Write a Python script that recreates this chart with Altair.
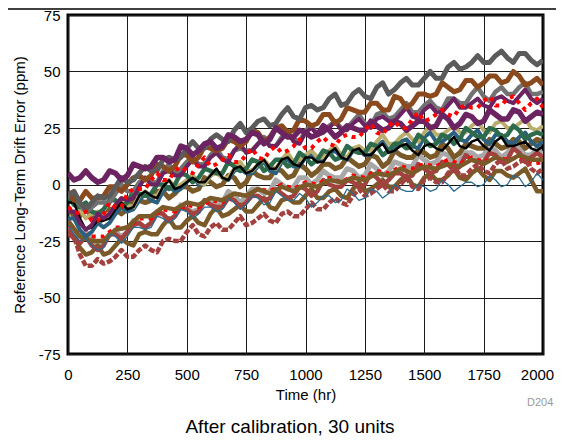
import altair as alt
import pandas as pd

HOURS_25 = list(range(0, 2001, 25))
HOURS_50 = list(range(0, 2001, 50))

dark_gray = [-5,-3,-8,-11,-8,-5,-6,-5,-1,3,1,2,5,8,6,6,11,12,11,12,16,19,16,16,20,22,20,19,24,27,23,25,28,29,26,27,31,34,30,29,34,35,33,34,38,40,35,36,40,42,39,38,43,45,40,42,45,47,44,44,47,50,47,47,52,54,51,52,54,57,54,54,57,59,56,54,58,58,55,53,55]
brown = [-3,-7,-7,-3,-6,-6,-5,-1,-1,-3,0,3,4,2,4,9,8,6,8,13,13,10,12,17,16,15,16,20,19,17,19,24,23,19,21,25,26,23,24,29,28,26,27,31,31,27,29,34,33,32,32,36,36,33,33,39,38,34,36,40,40,39,40,45,43,41,42,46,46,43,45,48,48,45,46,50,48,44,45,47,44]
med_gray = [-5,-5,-9,-12,-10,-8,-8,-8,-4,0,-3,-3,1,3,1,1,6,9,5,7,10,12,9,9,13,16,12,11,15,16,15,15,18,21,17,17,21,23,20,19,24,26,22,23,26,28,25,25,28,31,27,26,31,32,29,30,33,36,32,32,35,37,34,33,38,38,36,36,40,43,39,37,41,43,40,40,43,45,40,40,41]
purple_a = [5,2,3,6,3,1,2,6,5,2,4,9,8,7,8,12,12,10,11,17,16,13,15,18,19,16,17,22,21,19,20,23,22,18,20,25,23,21,21,24,23,21,22,26,24,21,23,26,25,24,24,28,26,24,25,28,27,24,26,28,28,25,26,31,29,25,27,31,30,27,28,33,31,29,29,33,32,28,30,32,31]
purple_b = [-12,-12,-17,-20,-18,-13,-15,-13,-9,-6,-7,-6,-1,3,0,0,5,6,4,4,8,11,8,8,12,14,11,10,15,18,14,15,18,20,17,17,20,23,19,18,23,25,22,23,25,28,24,24,27,29,26,25,29,30,28,28,31,34,30,29,33,35,32,32,35,38,34,34,36,38,35,34,38,39,37,36,39,42,38,36,38]
red_a = [-10,-12,-13,-12,-16,-16,-13,-8,-10,-10,-4,-2,-2,-2,2,5,2,2,6,8,6,5,9,12,8,9,11,13,10,10,13,16,12,11,15,17,14,15,17,20,16,16,19,21,18,17,21,22,21,21,24,27,23,22,26,28,25,25,29,32,28,29,31,33,31,30,34,35,34,34,37,39,35,35,38,39,36,33,36,38,34]
black = [-8,-8,-15,-20,-19,-16,-16,-15,-11,-8,-11,-10,-5,-3,-5,-6,-1,2,-2,-1,1,3,1,1,4,7,3,2,7,8,5,6,9,11,7,7,11,12,9,8,12,12,10,10,14,16,12,11,15,16,13,13,16,18,14,15,17,18,15,13,17,18,16,15,18,21,17,16,19,20,17,15,19,21,17,17,18,19,16,15,17]
green = [-5,-9,-10,-8,-12,-13,-11,-7,-7,-10,-8,-3,-4,-5,-4,0,0,-2,0,5,4,1,3,7,6,5,5,10,8,6,7,11,10,6,8,11,11,8,9,14,12,9,11,15,14,11,12,17,15,14,14,18,17,13,15,18,18,16,17,22,20,17,18,22,21,18,20,25,23,21,21,25,24,21,22,26,24,20,22,23,22]
blue = [-15,-15,-20,-23,-21,-17,-19,-17,-13,-10,-12,-11,-7,-4,-7,-8,-3,-1,-3,-2,1,4,0,0,4,6,3,2,6,7,5,5,8,10,6,5,10,11,8,8,12,14,10,11,14,15,12,11,15,15,13,13,17,19,15,15,19,20,17,16,21,23,19,19,21,23,20,19,22,24,20,18,22,22,19,18,21,23,19,17,19]
thin_blue = [-18,-22,-25,-24,-27,-29,-28,-22,-23,-26,-23,-19,-19,-20,-19,-14,-15,-17,-15,-11,-12,-15,-13,-10,-10,-12,-11,-6,-8,-11,-9,-5,-6,-9,-8,-3,-5,-7,-7,-4,-6,-10,-8,-5,-5,-8,-7,-2,-4,-7,-6,-2,-3,-6,-4,0,-2,-3,-3,0,-1,-3,-2,2,0,-3,-1,1,1,-1,0,4,2,-1,0,4,3,-1,1,5,2]
brick_a = [-22,-23,-31,-36,-36,-33,-35,-34,-32,-29,-32,-32,-29,-27,-29,-30,-25,-24,-25,-25,-21,-18,-22,-23,-19,-17,-20,-20,-17,-14,-18,-17,-15,-13,-16,-17,-13,-12,-14,-14,-11,-8,-11,-11,-8,-6,-8,-9,-5,-2,-5,-4,-2,0,-3,-3,0,3,-1,-2,2,3,1,1,5,8,4,4,7,9,6,5,9,11,7,8,10,11,7,5,7]
brick_b = [-20,-24,-26,-23,-27,-29,-27,-22,-22,-24,-21,-18,-17,-19,-17,-12,-13,-16,-14,-10,-11,-13,-12,-7,-9,-10,-10,-6,-7,-10,-8,-5,-5,-7,-6,-2,-4,-6,-5,-1,-2,-5,-3,2,0,-1,-1,2,1,-1,0,5,3,0,2,5,5,3,4,9,7,5,6,10,9,6,8,13,11,10,10,14,13,10,11,16,14,10,12,14,12]
khaki = [-5,-6,-11,-15,-13,-12,-13,-13,-9,-6,-9,-10,-5,-3,-5,-5,-1,2,-1,0,2,4,1,0,4,5,3,3,7,10,6,6,9,11,8,7,11,14,10,11,13,15,12,12,15,17,13,12,16,17,15,15,19,22,18,18,21,23,20,19,23,26,22,22,24,26,23,23,26,28,24,23,27,28,25,25,27,29,25,24,26]
olive_a = [-10,-14,-14,-11,-14,-17,-15,-11,-11,-13,-11,-6,-7,-8,-7,-3,-3,-6,-4,-1,-1,-3,-2,3,1,-1,0,4,3,-1,1,6,4,3,3,7,6,3,4,9,7,4,6,9,9,7,8,12,10,8,9,13,12,8,10,15,13,12,12,15,14,12,13,18,16,12,14,18,17,16,16,20,18,16,17,20,19,16,18,20,19]
olive_b = [-22,-23,-28,-31,-30,-27,-31,-30,-27,-24,-26,-27,-22,-21,-22,-22,-18,-15,-19,-19,-16,-14,-17,-18,-13,-10,-14,-13,-11,-9,-12,-12,-9,-6,-10,-11,-7,-6,-8,-8,-5,-2,-6,-6,-3,-2,-5,-6,-2,1,-3,-2,0,2,-1,-1,2,4,0,-1,3,5,2,2,4,7,3,2,5,7,4,2,6,6,4,3,5,7,2,-3,-3]
light_gray = [-18,-21,-23,-21,-24,-27,-25,-22,-21,-23,-21,-16,-17,-19,-17,-13,-13,-16,-14,-9,-11,-12,-11,-7,-8,-10,-8,-3,-5,-8,-5,-2,-2,-4,-3,2,0,-2,-1,3,3,0,2,6,4,3,3,7,6,3,4,9,7,4,6,10,9,8,8,13,11,9,10,14,13,9,11,14,14,12,13,17,15,12,14,17,16,13,13,16,13]
# two mostly hidden units, read at 50 hr steps
red_b = [-18,-22,-23,-23,-19,-19,-15,-15,-11,-12,-9,-10,-7,-8,-4,-5,-2,-3,0,-2,1,0,3,1,4,3,6,5,8,7,9,8,11,9,12,10,12,11,12,9,10]
olive_c = [-16,-23,-25,-25,-20,-19,-14,-14,-10,-11,-8,-9,-6,-7,-4,-5,-2,-4,-1,-3,0,-1,2,1,3,2,5,4,7,5,8,7,9,8,11,9,12,10,13,11,11]

X_TICKS = [0, 250, 500, 750, 1000, 1250, 1500, 1750, 2000]
Y_TICKS = [-75, -50, -25, 0, 25, 50, 75]

# (hours, values, color, width, dash) in drawing order
SERIES = [
    (HOURS_25, light_gray, "#A8A8A8", 5, None),
    (HOURS_25, olive_b, "#7B5A2A", 4.5, None),
    (HOURS_25, brick_b, "#A3413F", 4.5, None),
    (HOURS_50, red_b, "#FF0000", 4, [4, 5]),
    (HOURS_50, olive_c, "#7B5A2A", 4.5, None),
    (HOURS_25, olive_a, "#7B5A2A", 5, None),
    (HOURS_25, blue, "#2C607F", 4, None),
    (HOURS_25, khaki, "#B9AE6D", 4, None),
    (HOURS_25, green, "#2D6B4C", 4.5, None),
    (HOURS_25, black, "#000000", 2.5, None),
    (HOURS_25, med_gray, "#727272", 4.5, None),
    (HOURS_25, purple_b, "#6B2461", 4, None),
    (HOURS_25, brown, "#8B4A1E", 5, None),
    (HOURS_25, dark_gray, "#5B5B5B", 5, None),
    (HOURS_25, purple_a, "#6B2461", 5.5, None),
    (HOURS_25, red_a, "#FF0000", 4, [4, 5]),
    (HOURS_25, brick_a, "#A3413F", 4.5, [6, 2]),
    (HOURS_25, thin_blue, "#2A6A8E", 1.3, None),
]

FONT = "Liberation Sans"

x_enc = alt.X(
    "hr:Q",
    scale=alt.Scale(domain=[0, 2000], nice=False, zero=False),
    axis=alt.Axis(values=X_TICKS, title="Time (hr)", grid=True, ticks=False,
                  domain=False, labelPadding=13, titlePadding=5,
                  labelExpr="toString(datum.value)", labelFlush=False,
                  labelOffset={"condition": {"test": "datum.value === 2000", "value": -6}, "value": 0}),
)
y_enc = alt.Y(
    "v:Q",
    scale=alt.Scale(domain=[-75, 75], nice=False, zero=False),
    axis=alt.Axis(values=Y_TICKS, title="Reference Long-Term Drift Error (ppm)",
                  grid=True, ticks=False, domain=False, labelPadding=8,
                  titlePadding=11, labelExpr="toString(datum.value)", labelFlush=False),
)

layers = []
for hours, vals, color, width, dash in SERIES:
    df = pd.DataFrame({"hr": hours, "v": vals})
    kw = dict(color=color, strokeWidth=width, clip=True, strokeJoin="round")
    if dash:
        kw["strokeDash"] = dash
        kw["strokeCap"] = "butt"
    layers.append(alt.Chart(df).mark_line(**kw).encode(x=x_enc, y=y_enc))

caption = alt.Chart(pd.DataFrame({"t": ["After calibration, 30 units"]})).mark_text(
    font=FONT, fontSize=19, color="#000", align="center", baseline="alphabetic"
).encode(x=alt.value(222), y=alt.value(418), text="t:N")

code = alt.Chart(pd.DataFrame({"t": ["D204"]})).mark_text(
    font=FONT, fontSize=11, color="#9a9a9a", align="left", baseline="middle"
).encode(x=alt.value(459), y=alt.value(388), text="t:N")

top_rule = alt.Chart(pd.DataFrame({"a": [0]})).mark_rule(color="#000", strokeWidth=1.5).encode(
    x=alt.value(-60), x2=alt.value(488), y=alt.value(-6)
)

chart = alt.layer(*layers, caption, code, top_rule).properties(
    width=475,
    height=339,
    padding={"left": 60, "top": 7, "right": 13, "bottom": 82},
    autosize=alt.AutoSizeParams(type="none"),
).configure_view(
    stroke="#000", strokeWidth=3
).configure_axis(
    gridColor="#1a1a1a", gridOpacity=1, gridWidth=1,
    labelFont=FONT, labelFontSize=15, labelColor="#000",
    titleFont=FONT, titleFontSize=15, titleFontWeight="normal", titleColor="#000",
)

chart.save("out.html", embed_options={"renderer": "svg", "actions": False})
